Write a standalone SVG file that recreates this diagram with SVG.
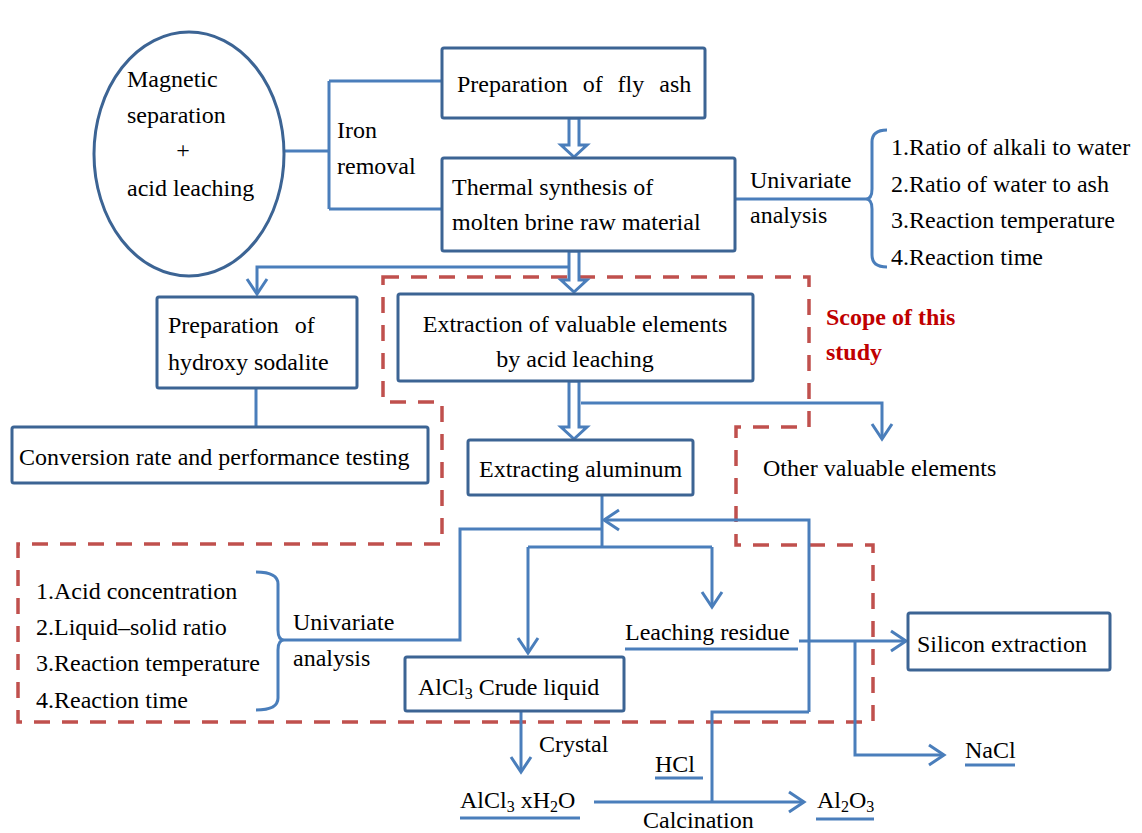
<svg xmlns="http://www.w3.org/2000/svg" width="1142" height="833" viewBox="0 0 1142 833">
<defs>
<style>
text{font-family:"Liberation Serif","Times New Roman",serif;font-size:24px;fill:#000}
.box{fill:#fff;stroke:#3c6494;stroke-width:3}
.c{fill:none;stroke:#4a7ebb;stroke-width:3}
.dbl{fill:#fff;stroke:#4a7ebb;stroke-width:3;stroke-linejoin:miter}
.scope{fill:none;stroke:#c0504d;stroke-width:3.5;stroke-dasharray:16 12}
.ul{stroke:#4a7ebb;stroke-width:3}
.red{fill:#c00000;font-weight:bold}
.sub{font-size:16px}
</style>
<marker id="arr" markerUnits="userSpaceOnUse" viewBox="0 0 20 24" refX="17" refY="12" markerWidth="20" markerHeight="24" orient="auto">
<path d="M2,2 L17,12 L2,22" fill="none" stroke="#4a7ebb" stroke-width="3"/>
</marker>
</defs>
<rect width="1142" height="833" fill="#fff"/>

<g id="scope">
<path class="scope" d="M383,277 H809 V427 H736 V545 H873 V722 H18 V544 H442 V402 H383 Z"/>
<text class="red" x="826" y="325">Scope of this</text>
<text class="red" x="826" y="360">study</text>
</g>

<g id="connectors">
<path class="c" d="M283,151 H329 M329,81 V209 M329,81 H442 M329,209 H442"/>
<path class="c" d="M569,267 H257 V294" marker-end="url(#arr)"/>
<path class="c" d="M735,199 H866"/>
<path class="c" d="M887,130 Q872,130 872,142 L872,189 Q872,199 866,199 Q872,199 872,209 L872,255 Q872,267 887,267"/>
<path class="c" d="M256,381 V427"/>
<path class="c" d="M581,403 H882 V439" marker-end="url(#arr)"/>
<path class="c" d="M602,495 V547"/>
<path class="c" d="M809,712 V520 H604" marker-end="url(#arr)"/>
<path class="c" d="M602,529 H460 V640 H284"/>
<path class="c" d="M256,572 Q278,572 278,584 L278,630 Q278,640 284,640 Q278,640 278,650 L278,698 Q278,710 256,710"/>
<path class="c" d="M528,547 H712"/>
<path class="c" d="M528,547 V653" marker-end="url(#arr)"/>
<path class="c" d="M712,547 V607" marker-end="url(#arr)"/>
<path class="c" d="M799,641 H906" marker-end="url(#arr)"/>
<path class="c" d="M855,641 V755 H944" marker-end="url(#arr)"/>
<path class="c" d="M521,711 V772" marker-end="url(#arr)"/>
<path class="c" d="M594,802 H804" marker-end="url(#arr)"/>
<path class="c" d="M712,802 V712 H809"/>
<polygon class="dbl" points="569,118 579,118 579,145 587,145 574,157 561,145 569,145"/>
<polygon class="dbl" points="569,251 579,251 579,280 587,280 574,292 561,280 569,280"/>
<polygon class="dbl" points="569,381 579,381 579,427 587,427 574,439 561,427 569,427"/>
</g>

<g id="n-magnetic">
<ellipse cx="189" cy="154" rx="95" ry="122" fill="#fff" stroke="#3c6494" stroke-width="3"/>
<text x="127" y="87">Magnetic</text>
<text x="127" y="123">separation</text>
<text x="183" y="158" text-anchor="middle">+</text>
<text x="127" y="196">acid leaching</text>
</g>

<g id="l-iron">
<text x="337" y="138">Iron</text>
<text x="337" y="174">removal</text>
</g>

<g id="n-flyash">
<rect class="box" x="442" y="48" width="263" height="70" rx="2"/>
<text x="457" y="92" word-spacing="9">Preparation of fly ash</text>
</g>

<g id="n-thermal">
<rect class="box" x="442" y="158" width="293" height="93" rx="2"/>
<text x="452" y="195">Thermal synthesis of</text>
<text x="452" y="230">molten brine raw material</text>
</g>

<g id="l-univ1">
<text x="750" y="188">Univariate</text>
<text x="750" y="223">analysis</text>
<text x="891" y="155">1.Ratio of alkali to water</text>
<text x="891" y="192">2.Ratio of water to ash</text>
<text x="891" y="228">3.Reaction temperature</text>
<text x="891" y="265">4.Reaction time</text>
</g>

<g id="n-sodalite">
<rect class="box" x="157" y="297" width="200" height="91" rx="2"/>
<text x="168" y="333" word-spacing="10">Preparation of</text>
<text x="168" y="370">hydroxy sodalite</text>
</g>

<g id="n-conversion">
<rect class="box" x="12" y="427" width="416" height="56" rx="2"/>
<text x="19" y="465">Conversion rate and performance testing</text>
</g>

<g id="n-extraction">
<rect class="box" x="398" y="294" width="355" height="87" rx="2"/>
<text x="575" y="332" text-anchor="middle">Extraction of valuable elements</text>
<text x="575" y="367" text-anchor="middle">by acid leaching</text>
</g>

<g id="n-aluminum">
<rect class="box" x="468" y="440" width="225" height="55" rx="2"/>
<text x="479" y="477">Extracting aluminum</text>
</g>

<g id="n-other">
<text x="763" y="476">Other valuable elements</text>
</g>

<g id="l-univ2">
<text x="36" y="599">1.Acid concentration</text>
<text x="36" y="635">2.Liquid–solid ratio</text>
<text x="36" y="671">3.Reaction temperature</text>
<text x="36" y="708">4.Reaction time</text>
<text x="293" y="630">Univariate</text>
<text x="293" y="666">analysis</text>
</g>

<g id="n-residue">
<text x="625" y="640">Leaching residue</text>
<line class="ul" x1="625" y1="649" x2="798" y2="649"/>
</g>

<g id="n-silicon">
<rect class="box" x="908" y="613" width="202" height="57" rx="2"/>
<text x="917" y="652">Silicon extraction</text>
</g>

<g id="n-crude">
<rect class="box" x="405" y="657" width="219" height="54" rx="2"/>
<text x="418" y="695">AlCl<tspan class="sub" dy="4">3</tspan><tspan dy="-4"> Crude liquid</tspan></text>
</g>

<g id="l-crystal"><text x="539" y="752">Crystal</text></g>

<g id="n-nacl">
<text x="965" y="758">NaCl</text>
<line class="ul" x1="965" y1="765" x2="1015" y2="765"/>
</g>

<g id="n-hcl">
<text x="655" y="772">HCl</text>
<line class="ul" x1="655" y1="778" x2="703" y2="778"/>
</g>

<g id="n-hydrate">
<text x="460" y="808">AlCl<tspan class="sub" dy="4">3</tspan><tspan dy="-4"> xH</tspan><tspan class="sub" dy="4">2</tspan><tspan dy="-4">O</tspan></text>
<line class="ul" x1="460" y1="818" x2="580" y2="818"/>
</g>

<g id="l-calc"><text x="643" y="828">Calcination</text></g>

<g id="n-al2o3">
<text x="817" y="808">Al<tspan class="sub" dy="4">2</tspan><tspan dy="-4">O</tspan><tspan class="sub" dy="4">3</tspan></text>
<line class="ul" x1="816" y1="819" x2="874" y2="819"/>
</g>
</svg>
